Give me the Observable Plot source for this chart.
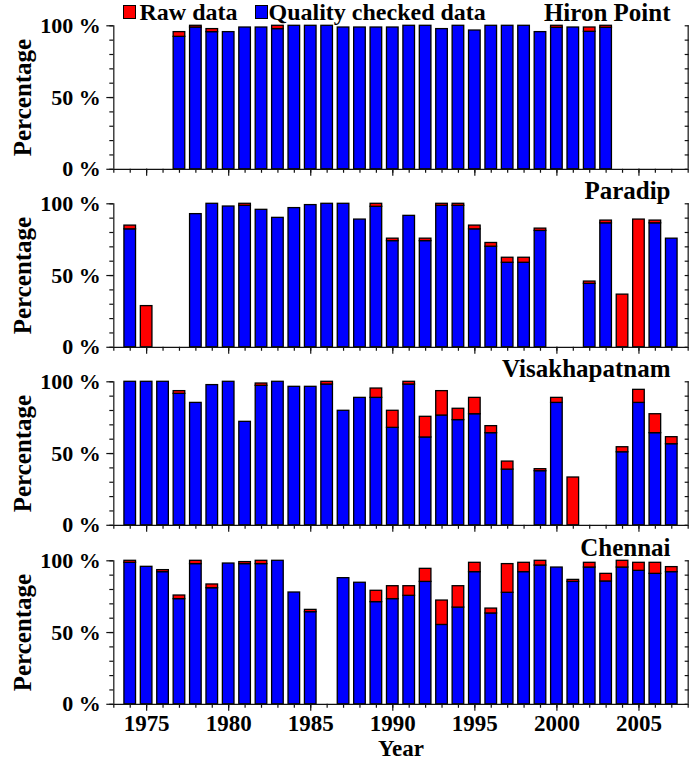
<!DOCTYPE html>
<html>
<head>
<meta charset="utf-8">
<script src="https://cdn.jsdelivr.net/npm/d3@7"></script>
<script src="https://cdn.jsdelivr.net/npm/@observablehq/plot@0.6"></script>
<style>
  body { margin: 0; background: #fff; }
  #chart { position: relative; width: 694px; height: 761px; font-family: "Liberation Serif", "Times New Roman", serif; color: #000; }
  #chart svg { display: block; }
  .leg-box { position: absolute; width: 11px; height: 12px; border: 1px solid #000; }
  .leg-text { position: absolute; top: 0; font-size: 24px; line-height: 24px; font-weight: bold; white-space: nowrap; }
</style>
</head>
<body>
<div id="chart"></div>
<script>
// ---- data (percent of each year) ----
const years = [1974,1975,1976,1977,1978,1979,1980,1981,1982,1983,1984,1985,1986,1987,1988,1989,1990,
               1991,1992,1993,1994,1995,1996,1997,1998,1999,2000,2001,2002,2003,2004,2005,2006,2007];
const stations = ["Hiron Point", "Paradip", "Visakhapatnam", "Chennai"];

// quality-checked part (blue), null = no data that year
const hironQC = [null,null,null,92.3,98.8,95.6,95.6,98.8,98.8,97.7,100,100,100,98.8,98.8,98.8,98.8,
                 100,100,97.7,100,96.7,100,100,100,95.6,98.6,98.8,95.8,98.6,null,null,null,null];
// additional raw-only part (red)
const hironRaw = [null,null,null,3.3,1.2,2.1,0,0,0,2.3,0,0,0,0,0,0,0,
                  0,0,0,0,0,0,0,0,0,1.4,0,3,1.4,null,null,null,null];

const paradipQC = [82.2,0,null,null,92.8,100,98.1,98.6,95.8,90.2,97,99.1,100,100,89,97.9,74,
                   91.6,74,98.6,98.6,82.2,70.1,58.9,58.9,81.1,null,null,44.2,86.4,0,0,86.4,75.7];
const paradipRaw = [2.6,28.7,null,null,0,0,0,1.4,0,0,0,0,0,0,0,2.1,1.7,
                    0,1.7,1.4,1.4,2.6,2.6,3.5,3.5,1.6,null,null,1.6,1.9,36.7,89,1.9,0];

const vizagQC = [100,100,100,91.6,85.3,97.7,100,72.1,97.2,100,96.5,96.5,98.1,79.8,88.8,88.8,67.9,
                 98.1,61.2,76.5,73.3,77.4,64.2,38.8,null,37.7,85.3,0,null,null,50.9,85.3,64.2,56.5];
const vizagRaw = [0,0,0,1.9,0,0,0,0,1.6,0,0,0,1.9,0,0,6.5,11.9,
                  1.9,14.4,17,7.9,11.4,4.9,5.6,null,1.4,3.5,33.3,null,null,3.5,9.1,13.2,4.9];

const chennaiQC = [98.6,95.8,92.1,73.3,97.7,80.9,98.1,97.7,97.7,100,77.9,64.2,null,87.9,84.7,71.2,73.3,
                   75.6,85.3,55.3,67.4,92.1,63.3,77.7,92.1,96.7,95.3,85.3,95.3,85.6,95.3,93,90.9,92.1];
const chennaiRaw = [1.4,0,1.4,2.5,2.3,2.6,0,1.4,2.3,0,0,1.6,null,0,0,7.9,9,
                    6.7,9.1,17,14.9,6.5,3.4,20,6.5,3.3,0,1.4,3.3,5.3,4.7,5.6,7.7,3.5];

const qcSeries = [hironQC, paradipQC, vizagQC, chennaiQC];
const rawSeries = [hironRaw, paradipRaw, vizagRaw, chennaiRaw];

const xDomain = [1973, 2008];
const minorYears = [1973,1974,1975,1976,1977,1978,1979,1980,1981,1982,1983,1984,1985,1986,1987,1988,1989,1990,
                    1991,1992,1993,1994,1995,1996,1997,1998,1999,2000,2001,2002,2003,2004,2005,2006,2007,2008];
const majorYears = [1975, 1980, 1985, 1990, 1995, 2000, 2005];
const minorPct = [0,10,20,30,40,50,60,70,80,90,100];
const majorPct = [0,50,100];
const legendLabels = ["Raw data", "Quality checked data"];
const colors = {raw: "#ff0000", qc: "#0000ff"};

const FONT = '"Liberation Serif", "Times New Roman", serif';
const chart = document.getElementById("chart");

function panel(i) {
  const last = i === stations.length - 1;
  const rows = years.map((year, k) => ({year, qc: qcSeries[i][k], raw: rawSeries[i][k]}))
                    .filter(d => d.qc != null);
  const blue = rows.filter(d => d.qc > 0);
  const red = rows.filter(d => d.raw > 0);
  const marginTop = 25.3, H = 143.5;
  const marginBottom = last ? 57.6 : 9.4;
  const axisStyle = {stroke: "#111", strokeWidth: 1.2};
  return Plot.plot({
    width: 694,
    height: marginTop + H + marginBottom,
    marginTop, marginBottom,
    marginLeft: 113.3, marginRight: 6.3,
    x: {type: "linear", domain: xDomain, axis: null},
    y: {type: "linear", domain: [0, 100], axis: null},
    style: {fontFamily: FONT, color: "#000", background: "transparent", overflow: "visible"},
    marks: [
      Plot.rect(blue, {x1: d => d.year - 0.5, x2: d => d.year + 0.5, y1: 0, y2: "qc",
                       insetLeft: 2.4, insetRight: 2.4, fill: colors.qc, stroke: "#000", strokeWidth: 1.3}),
      Plot.rect(red, {x1: d => d.year - 0.5, x2: d => d.year + 0.5, y1: "qc", y2: d => d.qc + d.raw,
                      insetLeft: 2.4, insetRight: 2.4, fill: colors.raw, stroke: "#000", strokeWidth: 1.3}),
      Plot.ruleX(xDomain, axisStyle),
      Plot.ruleY([0], axisStyle),
      Plot.axisX(minorYears, {anchor: "bottom", tickSize: 4, tickFormat: () => "", label: null, ...axisStyle}),
      Plot.axisX(majorYears, {anchor: "bottom", tickSize: 7, tickPadding: 3,
                              tickFormat: last ? (d => String(d)) : (() => ""),
                              label: last ? "Year" : null, labelAnchor: "center", labelOffset: 52, labelArrow: "none",
                              fontSize: 23, fontWeight: "bold", ...axisStyle}),
      Plot.axisY(minorPct, {anchor: "left", tickSize: 4, tickFormat: () => "", label: null, ...axisStyle}),
      Plot.axisY(majorPct, {anchor: "left", tickSize: 7, tickPadding: 6, tickFormat: d => d + " %",
                            label: null, fontSize: 22, fontWeight: "bold", ...axisStyle}),
      Plot.axisY(minorPct, {anchor: "right", tickSize: -4, tickFormat: () => "", label: null, ...axisStyle}),
      Plot.text([stations[i]], {frameAnchor: "top-right", lineAnchor: "middle", dx: -17.7, dy: -13,
                                fontSize: 25, fontWeight: "bold", fill: "#000", textAnchor: "end"}),
      Plot.text(["Percentage"], {frameAnchor: "left", textAnchor: "middle", lineAnchor: "middle", rotate: -90,
                                 dx: -91, fontSize: 25, fontWeight: "bold", fill: "#000"})
    ]
  });
}

stations.forEach((s, i) => chart.appendChild(panel(i)));

// legend (top left, over the first panel's top margin)
const legendPos = [{box: 123, text: 139.5, color: colors.raw}, {box: 255, text: 268.5, color: colors.qc}];
legendLabels.forEach((label, k) => {
  const b = document.createElement("div");
  b.className = "leg-box";
  b.style.left = legendPos[k].box + "px";
  b.style.top = "5px";
  b.style.background = legendPos[k].color;
  chart.appendChild(b);
  const t = document.createElement("div");
  t.className = "leg-text";
  t.style.left = legendPos[k].text + "px";
  t.textContent = label;
  chart.appendChild(t);
});
</script>
</body>
</html>
